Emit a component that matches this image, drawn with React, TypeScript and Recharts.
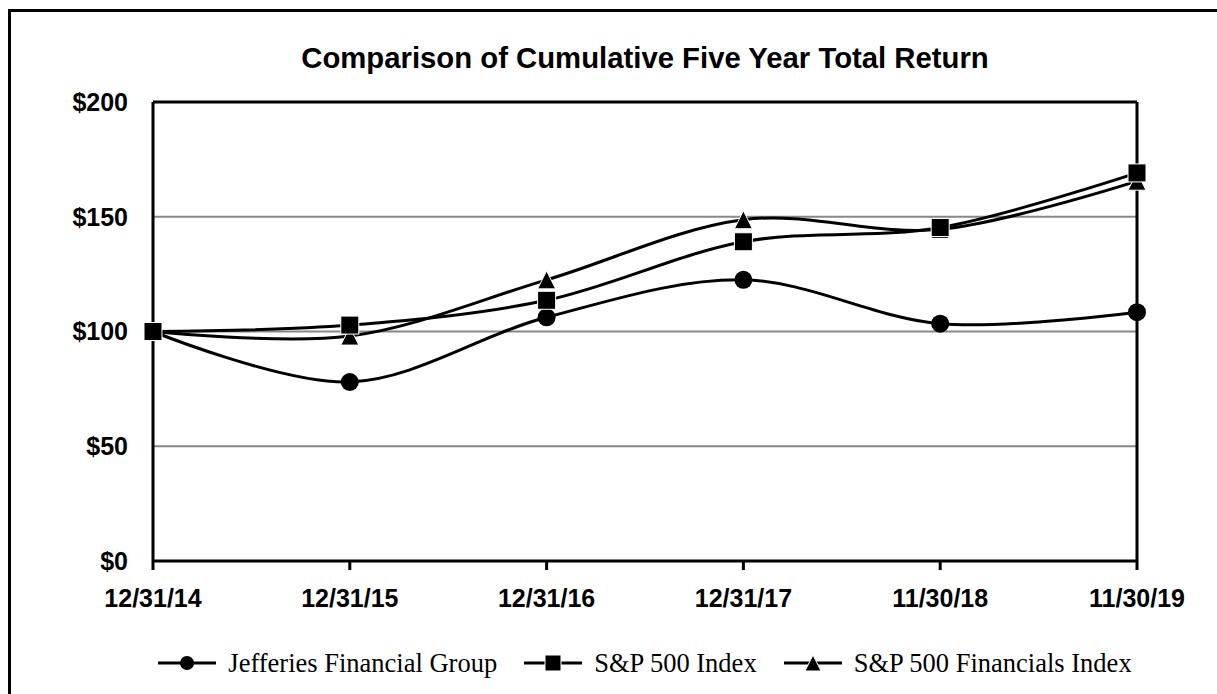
import {
  LineChart,
  Line,
  XAxis,
  YAxis,
  CartesianGrid,
  ReferenceLine,
  Legend,
} from 'recharts';

const dates = ['12/31/14', '12/31/15', '12/31/16', '12/31/17', '11/30/18', '11/30/19'];
const jefferies = [100, 78, 106.2, 122.5, 103.4, 108.4];
const sp500 = [100, 102.8, 113.6, 139.1, 145.3, 169.1];
const financials = [100, 98, 122.5, 148.7, 144.5, 165.5];
const yTicks = [0, 50, 100, 150, 200];

const data = dates.map((d, i) => ({
  date: d,
  jef: jefferies[i],
  sp: sp500[i],
  fin: financials[i],
}));

const SANS = '"Liberation Sans", Arial, sans-serif';
const SERIF = '"Liberation Serif", "Times New Roman", serif';

/** Catmull-Rom style smoothing, like a spreadsheet's "smoothed line". */
function smoothCurve(context: any) {
  const k = 1 / 6;
  let x0 = NaN, x1 = NaN, x2 = NaN, y0 = NaN, y1 = NaN, y2 = NaN;
  let n = 0;
  let line = NaN;
  const seg = (x: number, y: number) => {
    context.bezierCurveTo(
      x1 + k * (x2 - x0),
      y1 + k * (y2 - y0),
      x2 + k * (x1 - x),
      y2 + k * (y1 - y),
      x2,
      y2,
    );
  };
  return {
    areaStart() { line = 0; },
    areaEnd() { line = NaN; },
    lineStart() {
      x0 = x1 = x2 = y0 = y1 = y2 = NaN;
      n = 0;
    },
    lineEnd() {
      if (n === 2) context.lineTo(x2, y2);
      else if (n === 3) seg(x1, y1);
      if (line || (line !== 0 && n === 1)) context.closePath();
      line = 1 - line;
    },
    point(xv: number, yv: number) {
      const x = +xv, y = +yv;
      if (n === 0) {
        n = 1;
        if (line) context.lineTo(x, y); else context.moveTo(x, y);
      } else if (n === 1) {
        n = 2;
        x1 = x; y1 = y;
      } else {
        n = 3;
        seg(x, y);
      }
      x0 = x1; x1 = x2; x2 = x;
      y0 = y1; y1 = y2; y2 = y;
    },
  };
}

type Shape = 'circle' | 'square' | 'triangle';

function marker(shape: Shape, cx: number, cy: number, s: number, key?: string | number) {
  if (shape === 'circle') return <circle key={key} cx={cx} cy={cy} r={s / 2} fill="#000" />;
  if (shape === 'square')
    return <rect key={key} x={cx - s / 2} y={cy - s / 2} width={s} height={s} fill="#000" stroke="#fff" strokeWidth={1} />;
  return (
    <polygon
      key={key}
      points={`${cx},${cy - s / 2} ${cx + s / 2},${cy + s / 2} ${cx - s / 2},${cy + s / 2}`}
      fill="#000"
      stroke="#fff"
      strokeWidth={1}
    />
  );
}

const dotFor = (shape: Shape) => (p: any) => marker(shape, p.cx, p.cy, 18, p.key ?? p.index);

const LEGEND = [
  { name: 'Jefferies Financial Group', shape: 'circle' as Shape },
  { name: 'S&P 500 Index', shape: 'square' as Shape },
  { name: 'S&P 500 Financials Index', shape: 'triangle' as Shape },
];

function LegendContent() {
  return (
    <div style={{ display: 'flex', justifyContent: 'center', gap: 27, fontFamily: SERIF, fontSize: 26.5, color: '#000' }}>
      {LEGEND.map((it) => (
        <span key={it.name} style={{ display: 'flex', alignItems: 'center', gap: 12 }}>
          <svg width={58} height={20}>
            <line x1={0} y1={10} x2={58} y2={10} stroke="#000" strokeWidth={3} />
            {marker(it.shape, 29, 10, it.shape === 'circle' ? 14 : 16)}
          </svg>
          <span style={{ lineHeight: 1 }}>{it.name}</span>
        </span>
      ))}
    </div>
  );
}

export default function App() {
  return (
    <div style={{ position: 'absolute', left: 0, top: 0, width: 1217, height: 694, background: '#fff', overflow: 'hidden' }}>
      <div
        style={{
          position: 'absolute',
          left: 8,
          top: 9,
          width: 1300,
          height: 800,
          borderLeft: '3px solid #000',
          borderTop: '3px solid #000',
        }}
      />
      <div
        style={{
          position: 'absolute',
          left: 153,
          width: 984,
          top: 58,
          transform: 'translateY(-50%)',
          textAlign: 'center',
          fontFamily: SANS,
          fontWeight: 'bold',
          fontSize: 29.3,
          lineHeight: 1,
        }}
      >
        Comparison of Cumulative Five Year Total Return
      </div>
      <div style={{ position: 'absolute', left: 0, top: 0 }}>
        <LineChart width={1217} height={694} data={data} margin={{ top: 102, right: 80, bottom: 93, left: 0 }}>
          <CartesianGrid horizontal vertical={false} stroke="#888" strokeWidth={2} />
          <XAxis
            dataKey="date"
            padding={{ left: 0, right: 0 }}
            height={40}
            axisLine={{ stroke: '#000', strokeWidth: 3 }}
            tickLine={{ stroke: '#000', strokeWidth: 3 }}
            tickSize={9}
            tickMargin={19}
            interval={0}
            tick={{ fill: '#000', fontSize: 25, fontWeight: 'bold', fontFamily: SANS }}
          />
          <YAxis
            domain={[0, 200]}
            ticks={yTicks}
            width={153}
            axisLine={{ stroke: '#000', strokeWidth: 3 }}
            tickLine={false}
            tickSize={0}
            tickMargin={25}
            tickFormatter={(v: number) => `$${v}`}
            tick={{ fill: '#000', fontSize: 25, fontWeight: 'bold', fontFamily: SANS }}
          />
          <ReferenceLine y={200} stroke="#000" strokeWidth={3} />
          <ReferenceLine x="11/30/19" stroke="#000" strokeWidth={3} />
          <Line
            dataKey="jef"
            type={smoothCurve as any}
            stroke="#000"
            strokeWidth={3}
            dot={dotFor('circle')}
            activeDot={false}
            isAnimationActive={false}
          />
          <Line
            dataKey="fin"
            type={smoothCurve as any}
            stroke="#000"
            strokeWidth={3}
            dot={dotFor('triangle')}
            activeDot={false}
            isAnimationActive={false}
          />
          <Line
            dataKey="sp"
            type={smoothCurve as any}
            stroke="#000"
            strokeWidth={3}
            dot={dotFor('square')}
            activeDot={false}
            isAnimationActive={false}
          />
          <Legend
            layout="horizontal"
            verticalAlign="middle"
            align="center"
            content={() => <LegendContent />}
            wrapperStyle={{ top: 650, left: 73, width: 1144 }}
          />
        </LineChart>
      </div>
    </div>
  );
}
